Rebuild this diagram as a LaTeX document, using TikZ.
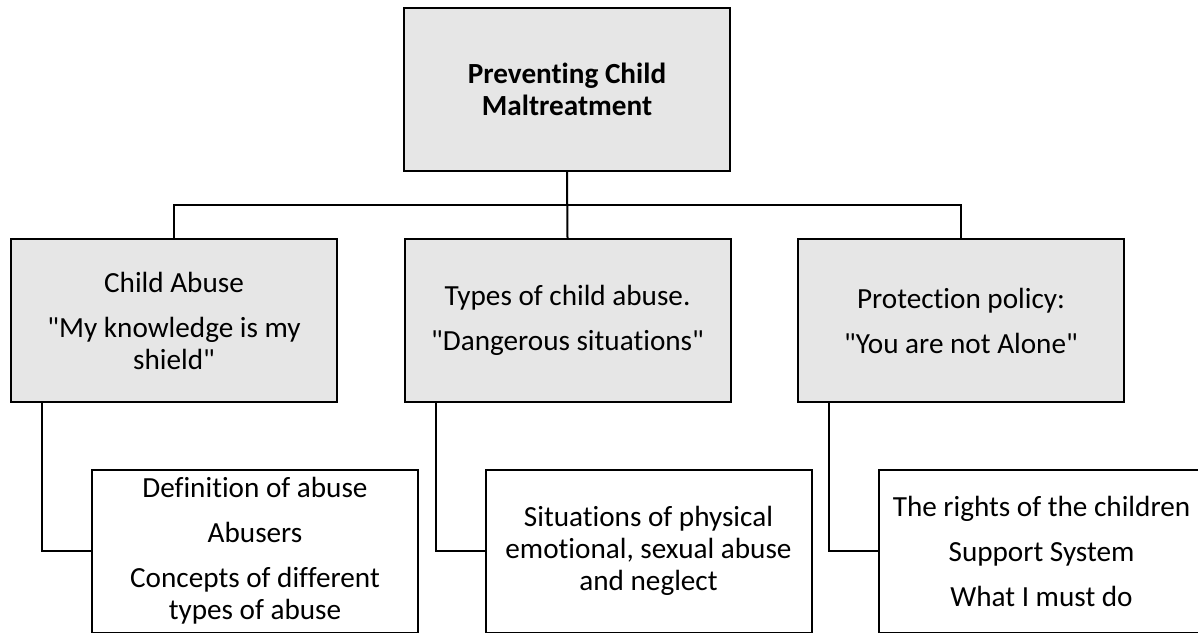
\documentclass[tikz,border=0pt]{standalone}
\usepackage{fontspec}
\setmainfont{Carlito}[Ligatures={TeXOff,CommonOff}]
\definecolor{boxgray}{RGB}{230,230,230}
\begin{document}
\begin{tikzpicture}[x=0.5pt,y=-0.5pt,
  base/.style={draw=black,line width=1pt,minimum width=163pt,minimum height=81.5pt,
    inner sep=0pt,align=center,font=\fontsize{14.6}{16}\selectfont},
  headbox/.style={base,fill=boxgray},
  itembox/.style={base,fill=white},
  link/.style={draw=black,line width=1pt}]
\useasboundingbox (0,0) rectangle (1198,632);
\clip (0,0) rectangle (1198,632);

% root
\node[headbox,font=\fontsize{14.6}{16}\selectfont\bfseries] (root) at (567,89.5)
  {Preventing Child\\Maltreatment};

% second level
\node[headbox] (c1) at (174,320.5)
  {Child Abuse\\[6.5pt]"My knowledge is my\\shield"};
\node[headbox] (c2) at (567.5,320.5)
  {Types of child abuse.\\[6.5pt]"Dangerous situations"};
\node[headbox] (c3) at (961,320.5)
  {Protection policy:\\[6.5pt]"You are not Alone"};

% third level
\node[itembox] (a) at (255,551)
  {Definition of abuse\\[6.5pt]Abusers\\[6.5pt]Concepts of different\\types of abuse};
\node[itembox] (b) at (648.5,551)
  {Situations of physical\\emotional, sexual abuse\\and neglect};
\node[itembox] (c) at (1041.5,551)
  {The rights of the children\\[6.5pt]Support System\\[6.5pt]What I must do};

% tree connectors
\coordinate (bus) at (567,205);
\draw[link] (root.south) -- (c2.north);
\draw[link] (c1.north) -- (c1.north |- bus) -- (c3.north |- bus) -- (c3.north);

\draw[link] ([xshift=16pt]c1.south west) |- (a.west);
\draw[link] ([xshift=16pt]c2.south west) |- (b.west);
\draw[link] ([xshift=16pt]c3.south west) |- (c.west);
\end{tikzpicture}
\end{document}
